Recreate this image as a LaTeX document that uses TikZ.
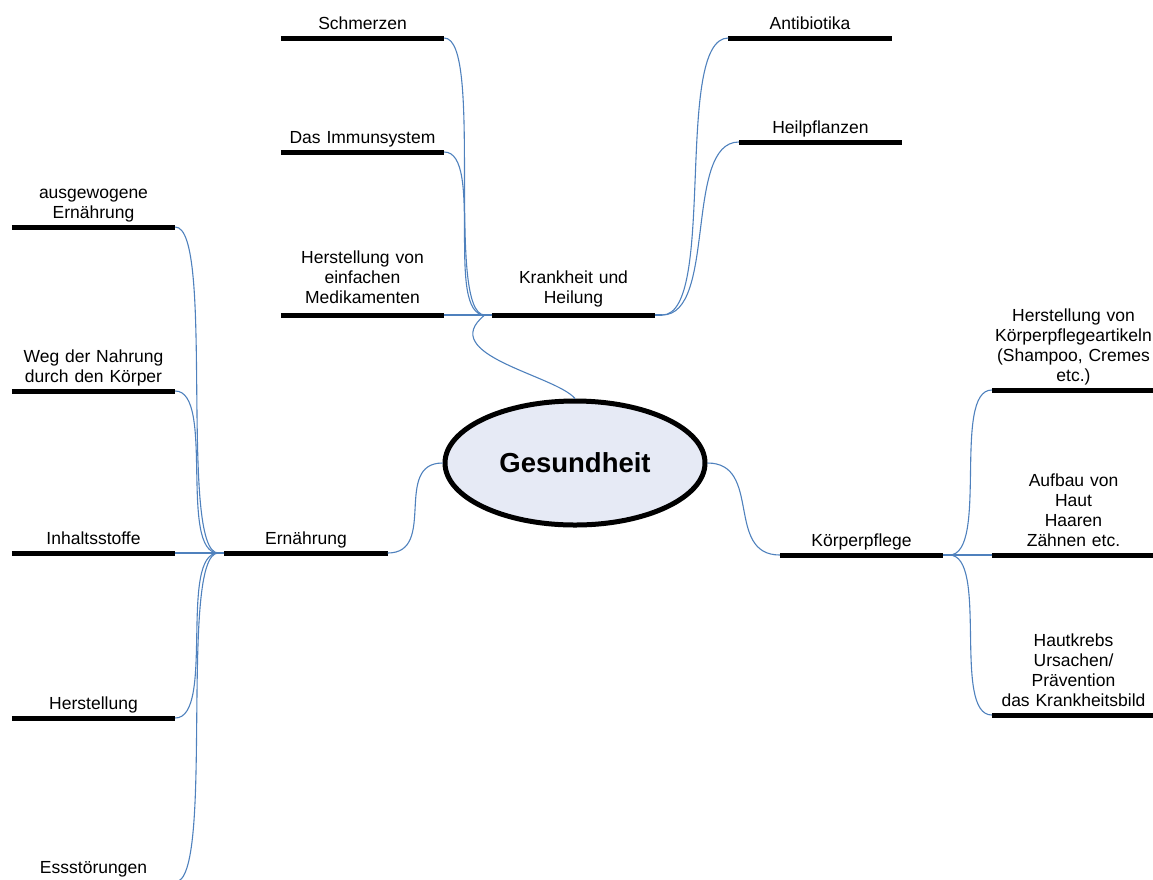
\documentclass[tikz,border=0pt]{standalone}
\usepackage{fontspec}
\setmainfont{Liberation Sans}
\usetikzlibrary{shapes.geometric}

\definecolor{linkblue}{RGB}{79,129,189}
\definecolor{hubfill}{RGB}{230,234,245}

\begin{document}
\begin{tikzpicture}[x=1pt, y=-1pt]
	\tikzset{bar/.style={line width=5pt, draw=black},
		topic/.style={align=center, text width=163pt, inner xsep=0pt, inner ysep=2pt, anchor=south,
			font=\fontsize{17.5}{20}\selectfont, execute at end node=\strut,
			append after command={(\tikzlastnode.south west) edge[bar] (\tikzlastnode.south east)}},
		link/.style={draw=linkblue, line width=1.1pt},
		fan left/.style={out=180, in=0, distance=40pt},
		fan right/.style={out=0, in=180, distance=40pt}}

	\useasboundingbox (0,0) rectangle (1153,879);
	\clip (0,0) rectangle (1153,879);

	% centre
	\node[ellipse, draw, line width=5pt, fill=hubfill, minimum width=260pt, minimum height=124pt, inner sep=0pt,
		font=\fontsize{27.5}{30}\selectfont\bfseries] (g) at (575,463) {Gesundheit};

	% Krankheit und Heilung
	\node[topic, inner ysep=5pt] (kh) at (573.5,315) {Krankheit und\\Heilung};
	\node[topic] (schm) at (362.5,38) {Schmerzen};
	\node[topic] (immun) at (362.5,152) {Das Immunsystem};
	\node[topic, inner ysep=5pt] (medik) at (362.5,315) {Herstellung von\\einfachen\\Medikamenten};
	\node[topic] (anti) at (810,38) {Antibiotika};
	\node[topic] (heil) at (820.5,142) {Heilpflanzen};

	% Ernaehrung
	\node[topic] (ern) at (306,553) {Ernährung};
	\node[topic] (ausg) at (93.5,227) {ausgewogene\\Ernährung};
	\node[topic] (weg) at (93.5,391) {Weg der Nahrung\\durch den Körper};
	\node[topic] (inhalt) at (93.5,553) {Inhaltsstoffe};
	\node[topic] (herst) at (93.5,718) {Herstellung};
	\node[topic] (ess) at (93.5,882) {Essstörungen};

	% Koerperpflege
	\node[topic] (kp) at (861.5,555) {Körperpflege};
	\node[topic] (artikel) at (1073.5,390) {Herstellung von\\Körperpflegeartikeln\\(Shampoo, Cremes\\etc.)};
	\node[topic] (aufbau) at (1073.5,555) {Aufbau von\\Haut\\Haaren\\Zähnen etc.};
	\node[topic] (krebs) at (1073.5,715) {Hautkrebs\\Ursachen/\\Prävention\\das Krankheitsbild};

	% meeting points just off the bar ends
	\coordinate (kh w) at ([xshift=-7pt]kh.south west);
	\coordinate (kh e) at ([xshift=7pt]kh.south east);
	\coordinate (ern w) at ([xshift=-6pt]ern.south west);
	\coordinate (kp e) at ([xshift=6pt]kp.south east);

	\draw[link] (kh w) .. controls (435,355) and (555,375) .. (g.north);
	\draw[link]
		(g.west) edge[out=180, in=0, distance=50pt] (ern.south east)
		(g.east) edge[out=0, in=180, distance=55pt] (kp.south west);

	\draw[link] (kh.south west) -- (kh w)
		(kh w) edge[fan left] (schm.south east)
		(kh w) edge[fan left] (immun.south east)
		(kh w) edge (medik.south east);
	\draw[link] (kh.south east) -- (kh e)
		(kh e) edge[fan right, distance=55pt] (anti.south west)
		(kh e) edge[fan right, distance=55pt] (heil.south west);

	\draw[link] (ern.south west) -- (ern w)
		(ern w) edge[fan left] (ausg.south east)
		(ern w) edge[fan left] (weg.south east)
		(ern w) edge (inhalt.south east)
		(ern w) edge[fan left] (herst.south east)
		(ern w) edge[fan left] (ess.south east);

	\draw[link] (kp.south east) -- (kp e)
		(kp e) edge[fan right] (artikel.south west)
		(kp e) edge (aufbau.south west)
		(kp e) edge[fan right] (krebs.south west);
\end{tikzpicture}
\end{document}
